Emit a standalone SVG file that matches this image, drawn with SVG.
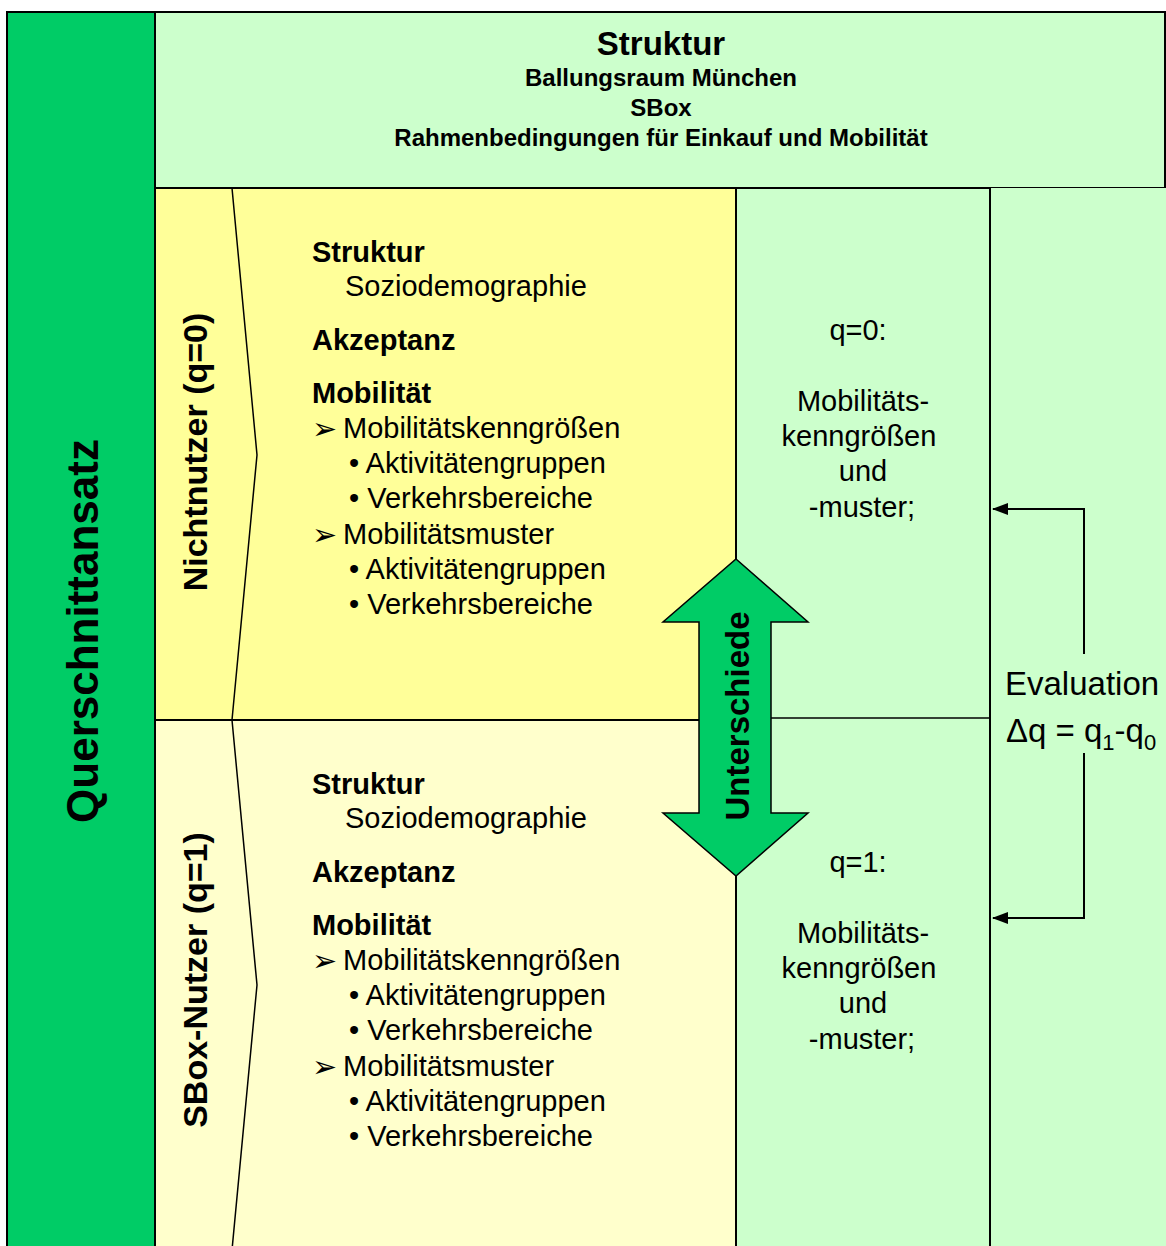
<svg xmlns="http://www.w3.org/2000/svg" width="1166" height="1246" viewBox="0 0 1166 1246">
<defs>
<style>
.b{font-family:"Liberation Sans",Arial,sans-serif;font-weight:bold;fill:#000}
.r{font-family:"Liberation Sans",Arial,sans-serif;fill:#000}
.ln{stroke:#000;stroke-width:2;fill:none}
.thin{stroke:#000;stroke-width:1.5;fill:none}
.sym{font-family:"DejaVu Sans",sans-serif;fill:#000;font-size:30px}
</style>
<marker id="ah" viewBox="0 0 16 12" refX="15" refY="6" markerWidth="16" markerHeight="12" markerUnits="userSpaceOnUse" orient="auto">
<path d="M0,0 L16,6 L0,12 z" fill="#000"/>
</marker>
</defs>
<rect width="1166" height="1246" fill="#fff"/>

<g id="querschnittansatz">
<rect x="7" y="12" width="148" height="1240" fill="#00CC66" stroke="#000" stroke-width="2"/>
<text class="b" font-size="44" text-anchor="middle" transform="translate(98,631) rotate(-90)">Querschnittansatz</text>
</g>

<g id="struktur-top">
<rect x="155" y="12" width="1010" height="176" fill="#CCFFCC" stroke="#000" stroke-width="2"/>
<text class="b" font-size="33" x="661" y="55" text-anchor="middle">Struktur</text>
<text class="b" font-size="24" x="661" y="86" text-anchor="middle">Ballungsraum München</text>
<text class="b" font-size="24" x="661" y="116" text-anchor="middle">SBox</text>
<text class="b" font-size="24" x="661" y="146" text-anchor="middle">Rahmenbedingungen für Einkauf und Mobilität</text>
</g>

<g id="right-column">
<rect x="736" y="188" width="254" height="1060" fill="#CCFFCC" stroke="#000" stroke-width="2"/>
<rect x="990" y="188" width="180" height="1060" fill="#CCFFCC"/>
<line class="ln" x1="990" y1="188" x2="990" y2="1246" stroke-width="2.5"/>
<line class="thin" x1="736" y1="718" x2="990" y2="718"/>
</g>

<g id="nichtnutzer">
<rect x="155" y="188" width="581" height="532" fill="#FFFF99" stroke="#000" stroke-width="2"/>
<polyline class="thin" points="232,188 257,455 232,720"/>
<text class="b" font-size="34" text-anchor="middle" transform="translate(207,452) rotate(-90)">Nichtnutzer (q=0)</text>
<text class="b" font-size="29" x="312" y="262">Struktur</text>
<text class="r" font-size="29" x="345" y="296">Soziodemographie</text>
<text class="b" font-size="29" x="312" y="350">Akzeptanz</text>
<text class="b" font-size="29" x="312" y="403">Mobilität</text>
<text class="sym" x="312" y="439">➢</text>
<text class="r" font-size="29" x="343" y="438">Mobilitätskenngrößen</text>
<text class="r" font-size="29" x="349" y="473">• Aktivitätengruppen</text>
<text class="r" font-size="29" x="349" y="508">• Verkehrsbereiche</text>
<text class="sym" x="312" y="545">➢</text>
<text class="r" font-size="29" x="343" y="544">Mobilitätsmuster</text>
<text class="r" font-size="29" x="349" y="579">• Aktivitätengruppen</text>
<text class="r" font-size="29" x="349" y="614">• Verkehrsbereiche</text>
</g>

<g id="sbox-nutzer">
<rect x="155" y="720" width="581" height="530" fill="#FFFFCC" stroke="#000" stroke-width="2"/>
<polyline class="thin" points="232,720 257,985 232,1250"/>
<text class="b" font-size="34" text-anchor="middle" transform="translate(207,980) rotate(-90)">SBox-Nutzer (q=1)</text>
<text class="b" font-size="29" x="312" y="794">Struktur</text>
<text class="r" font-size="29" x="345" y="828">Soziodemographie</text>
<text class="b" font-size="29" x="312" y="882">Akzeptanz</text>
<text class="b" font-size="29" x="312" y="935">Mobilität</text>
<text class="sym" x="312" y="971">➢</text>
<text class="r" font-size="29" x="343" y="970">Mobilitätskenngrößen</text>
<text class="r" font-size="29" x="349" y="1005">• Aktivitätengruppen</text>
<text class="r" font-size="29" x="349" y="1040">• Verkehrsbereiche</text>
<text class="sym" x="312" y="1077">➢</text>
<text class="r" font-size="29" x="343" y="1076">Mobilitätsmuster</text>
<text class="r" font-size="29" x="349" y="1111">• Aktivitätengruppen</text>
<text class="r" font-size="29" x="349" y="1146">• Verkehrsbereiche</text>
</g>

<g id="q0-text">
<text class="r" font-size="29" x="858" y="340" text-anchor="middle">q=0:</text>
<text class="r" font-size="29" x="863" y="411" text-anchor="middle">Mobilitäts-</text>
<text class="r" font-size="29" x="859" y="446" text-anchor="middle">kenngrößen</text>
<text class="r" font-size="29" x="863" y="481" text-anchor="middle">und</text>
<text class="r" font-size="29" x="862" y="517" text-anchor="middle">-muster;</text>
</g>

<g id="q1-text">
<text class="r" font-size="29" x="858" y="872" text-anchor="middle">q=1:</text>
<text class="r" font-size="29" x="863" y="943" text-anchor="middle">Mobilitäts-</text>
<text class="r" font-size="29" x="859" y="978" text-anchor="middle">kenngrößen</text>
<text class="r" font-size="29" x="863" y="1013" text-anchor="middle">und</text>
<text class="r" font-size="29" x="862" y="1049" text-anchor="middle">-muster;</text>
</g>

<g id="unterschiede">
<polygon points="736,559 808,622 771,622 771,813 808,813 736,876 663,813 699,813 699,622 663,622" fill="#00CC66" stroke="#000" stroke-width="1.5"/>
<text class="b" font-size="33" text-anchor="middle" transform="translate(749,716) rotate(-90)">Unterschiede</text>
</g>

<g id="evaluation">
<text class="r" font-size="33" x="1005" y="695">Evaluation</text>
<text class="r" font-size="33" x="1006" y="742">Δq = q<tspan font-size="22" dy="8">1</tspan><tspan dy="-8">-q</tspan><tspan font-size="22" dy="8">0</tspan></text>
</g>

<g id="connectors">
<polyline class="ln" points="1084,654 1084,509 993,509" marker-end="url(#ah)"/>
<polyline class="ln" points="1084,753 1084,918 993,918" marker-end="url(#ah)"/>
</g>
</svg>
